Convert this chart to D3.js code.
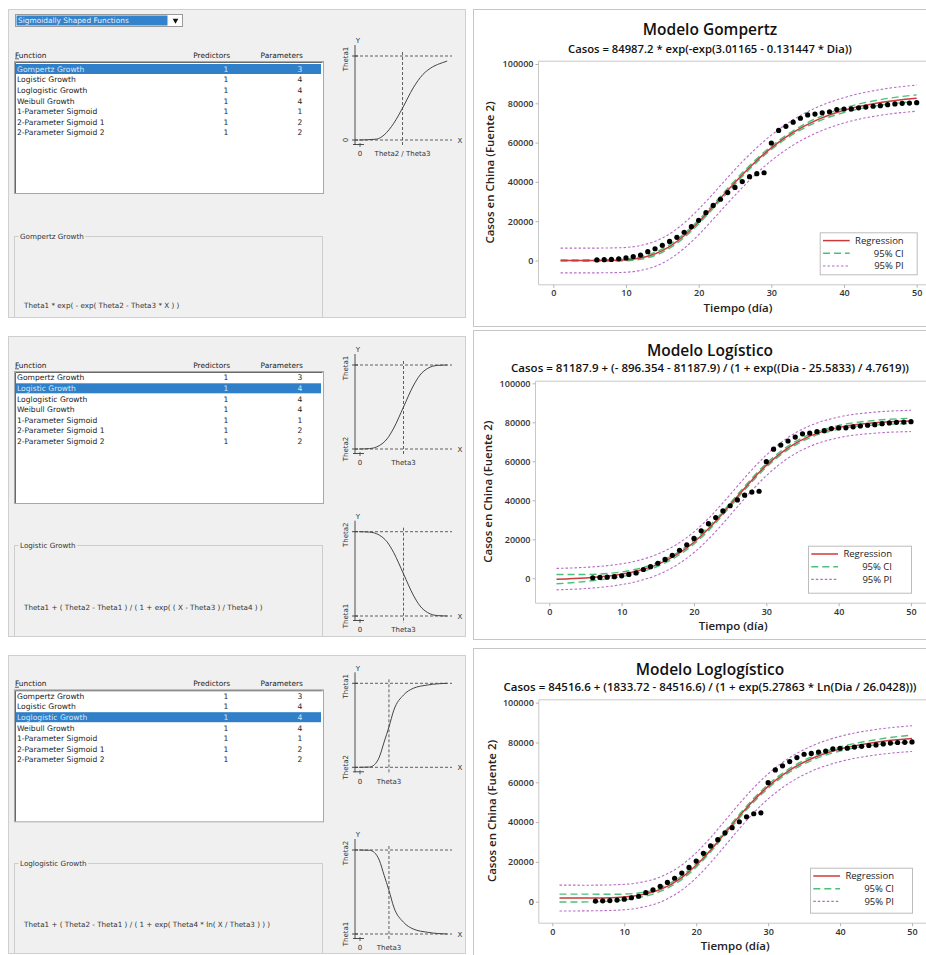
<!DOCTYPE html>
<html>
<head>
<meta charset="utf-8">
<script src="https://cdn.jsdelivr.net/npm/d3@7"></script>
<style>
  body { margin: 0; background: #fff; }
  svg { display: block; }
</style>
</head>
<body>
<script>
// ---- dialog list contents ----
const funcNames = ["Gompertz Growth", "Logistic Growth", "Loglogistic Growth", "Weibull Growth",
  "1-Parameter Sigmoid", "2-Parameter Sigmoid 1", "2-Parameter Sigmoid 2"];
const funcPredictors = [1, 1, 1, 1, 1, 1, 1];
const funcParams = [3, 4, 4, 4, 1, 2, 2];

// ---- observed cases (same series in the three charts) ----
const days = [6, 7, 8, 9, 10, 11, 12, 13, 14, 15, 16, 17, 18, 19, 20, 21, 22, 23, 24, 25, 26, 27, 28,
  29, 30, 31, 32, 33, 34, 35, 36, 37, 38, 39, 40, 41, 42, 43, 44, 45, 46, 47, 48, 49, 50];
const cases = [291, 440, 571, 830, 1287, 1975, 2744, 4515, 5974, 7711, 9692, 11791, 14380, 17205,
  20438, 24324, 28018, 31161, 34546, 37198, 40171, 42638, 44200, 44653, 59804, 66200, 68300, 70400,
  72400, 74100, 74500, 75200, 75700, 76800, 77100, 77150, 77700, 78100, 78500, 78800, 79300, 79700,
  80000, 80100, 80300];

// ---- fitted curves, with CI / PI half widths ----
const fitDays = [1, 5, 9, 12, 15, 18, 20, 22, 24, 26, 28, 30, 33, 36, 40, 45, 50];
const gompFit = [0, 2, 170, 1280, 5020, 12620, 19610, 27530, 35720, 43650, 50920, 57320, 65170, 71060, 76450, 80450, 82610];
const gompCi = [300, 350, 450, 650, 850, 950, 1000, 1000, 1000, 950, 900, 850, 850, 950, 1150, 1400, 1700];
const gompPi = [6300, 6300, 6300, 6350, 6400, 6450, 6500, 6500, 6550, 6550, 6500, 6500, 6450, 6450, 6450, 6550, 6650];
const logiFit = [-430, 180, 1550, 3580, 7130, 12980, 18510, 25390, 33380, 41940, 50340, 57920, 66910, 72910, 77400, 79820, 80700];
const logiCi = [2400, 1800, 1250, 1050, 950, 900, 950, 950, 900, 900, 950, 950, 900, 850, 950, 1150, 1400];
const logiPi = [5500, 5450, 5350, 5300, 5300, 5300, 5300, 5300, 5300, 5300, 5300, 5300, 5300, 5300, 5300, 5400, 5450];
const loglFit = [1830, 1850, 2140, 3200, 6100, 12140, 18280, 25900, 34400, 43000, 50990, 57930, 66100, 71840, 76740, 80150, 81960];
const loglCi = [2000, 1950, 1600, 1150, 950, 900, 950, 950, 950, 900, 950, 950, 900, 900, 1000, 1300, 1800];
const loglPi = [6500, 6450, 6400, 6350, 6300, 6300, 6300, 6300, 6300, 6300, 6300, 6300, 6300, 6300, 6350, 6400, 6450];

const xTicks = [0, 10, 20, 30, 40, 50];
const yTicks = [0, 20000, 40000, 60000, 80000, 100000];
const legendLabels = ["Regression", "95% CI", "95% PI"];

// ---- little shape sketches in the dialog (0..1 units) ----
const gompShapeU = [0.04, 0.22, 0.30, 0.40, 0.49, 0.60, 0.70, 0.80, 0.90, 0.95];
const gompShapeV = [0, 0.01, 0.06, 0.20, 0.38, 0.62, 0.78, 0.87, 0.92, 0.94];
const logiShapeU = [0.04, 0.15, 0.25, 0.33, 0.40, 0.50, 0.60, 0.67, 0.75, 0.85, 0.95];
const logiShapeV = [0, 0.005, 0.04, 0.12, 0.25, 0.50, 0.75, 0.88, 0.96, 0.995, 1];
const loglShapeU = [0.04, 0.15, 0.20, 0.25, 0.30, 0.35, 0.40, 0.50, 0.60, 0.75, 0.95];
const loglShapeV = [0, 0.003, 0.03, 0.12, 0.30, 0.48, 0.68, 0.86, 0.94, 0.98, 1];

const red = "#cc3a3a", green = "#4cbf7c", purple = "#b86cc8";
const uiFont = "'DejaVu Sans', sans-serif";
const chartFont = "'Open Sans', sans-serif";

const svg = d3.select("body").append("svg")
  .attr("width", 926)
  .attr("height", 955);

const dialogs = [
  { top: 9, bottom: 317, dropdown: true, selected: 0, listTop: 61, firstRow: 69, groupTop: 236, formulaY: 308,
    group: "Gompertz Growth", formula: "Theta1 * exp( - exp( Theta2 - Theta3 * X ) )",
    diagrams: [{ top: 56, bottom: 140, vu: 0.49, u: gompShapeU, v: gompShapeV, flip: false, topLab: "Theta1", botLab: "0", xLab: "Theta2 / Theta3" }] },
  { top: 336, bottom: 636, dropdown: false, selected: 1, listTop: 371, firstRow: 377.7, groupTop: 545, formulaY: 610,
    group: "Logistic Growth", formula: "Theta1 + ( Theta2 - Theta1 ) / ( 1 + exp( ( X - Theta3 ) / Theta4 ) )",
    diagrams: [
      { top: 365, bottom: 449, vu: 0.5, u: logiShapeU, v: logiShapeV, flip: false, topLab: "Theta1", botLab: "Theta2", xLab: "Theta3" },
      { top: 531.7, bottom: 616, vu: 0.5, u: logiShapeU, v: logiShapeV, flip: true, topLab: "Theta2", botLab: "Theta1", xLab: "Theta3" }] },
  { top: 655, bottom: 953, dropdown: false, selected: 2, listTop: 689.3, firstRow: 696, groupTop: 863, formulaY: 927,
    group: "Loglogistic Growth", formula: "Theta1 + ( Theta2 - Theta1 ) / ( 1 + exp( Theta4 * ln( X / Theta3 ) ) )",
    diagrams: [
      { top: 683.3, bottom: 767.3, vu: 0.35, u: loglShapeU, v: loglShapeV, flip: false, topLab: "Theta1", botLab: "Theta2", xLab: "Theta3" },
      { top: 850, bottom: 934, vu: 0.35, u: loglShapeU, v: loglShapeV, flip: true, topLab: "Theta2", botLab: "Theta1", xLab: "Theta3" }] }
];

const charts = [
  { title: "Modelo Gompertz", sub: "Casos = 84987.2 * exp(-exp(3.01165 - 0.131447 * Dia))", subW: 284,
    fit: gompFit, ci: gompCi, pi: gompPi, panelTop: 9, panelBottom: 326, titleY: 34.5, subY: 52.5,
    left: 538, top: 60.7, bottom: 284.3, x0: 553.3, x50: 916.7, y0: 260.5, y100: 64, ylabX: 490, legW: 97, legH: 42 },
  { title: "Modelo Logístico", sub: "Casos = 81187.9 + (- 896.354 - 81187.9) / (1 + exp((Dia - 25.5833) / 4.7619))", subW: 398,
    fit: logiFit, ci: logiCi, pi: logiPi, panelTop: 330, panelBottom: 639, titleY: 356, subY: 372,
    left: 535, top: 380.7, bottom: 602.7, x0: 549.3, x50: 911, y0: 578.3, y100: 383.3, ylabX: 488, legW: 103, legH: 47 },
  { title: "Modelo Loglogístico", sub: "Casos = 84516.6 + (1833.72 - 84516.6) / (1 + exp(5.27863 * Ln(Dia / 26.0428)))", subW: 413,
    fit: loglFit, ci: loglCi, pi: loglPi, panelTop: 648, panelBottom: 955, titleY: 674.5, subY: 690.5,
    left: 538.3, top: 699.3, bottom: 922.7, x0: 552.3, x50: 912, y0: 901.7, y100: 702.7, ylabX: 491.7, legW: 102, legH: 45 }
];

function fitWidth(sel, target) {
  const size = parseFloat(sel.attr("font-size"));
  const len = sel.node().getComputedTextLength();
  if (len > 0) sel.attr("font-size", (size * target / len).toFixed(2));
}

function drawDiagram(g, d) {
  const ink = "#3a3a3a";
  const x = d3.scaleLinear().domain([0, 1]).range([355, 452]);
  const y = d3.scaleLinear().domain([0, 1]).range(d.flip ? [d.top, d.bottom] : [d.bottom, d.top]);
  const yTop = d.top, yBot = d.bottom;
  const dash = (x1, y1, x2, y2) => g.append("line")
    .attr("x1", x1).attr("y1", y1).attr("x2", x2).attr("y2", y2)
    .attr("stroke", ink).attr("stroke-width", 0.8).attr("stroke-dasharray", "3,2");

  dash(x(0), yTop, x(1), yTop);
  dash(x(0), yBot, x(1), yBot);
  dash(x(d.vu), yTop - 4, x(d.vu), yBot + 7);

  g.append("line").attr("x1", 355).attr("x2", 355).attr("y1", yTop - 11).attr("y2", yBot + 5)
    .attr("stroke", ink).attr("stroke-width", 0.9);
  g.append("line").attr("x1", 353).attr("x2", 364).attr("y1", yBot + 4.5).attr("y2", yBot + 4.5)
    .attr("stroke", ink).attr("stroke-width", 0.9);
  [yTop, yBot].forEach(v => g.append("line").attr("x1", 352).attr("x2", 358).attr("y1", v).attr("y2", v)
    .attr("stroke", ink).attr("stroke-width", 0.9));
  g.append("line").attr("x1", 360).attr("x2", 360).attr("y1", yBot + 3).attr("y2", yBot + 7)
    .attr("stroke", ink).attr("stroke-width", 0.8);

  g.append("path")
    .datum(d3.zip(d.u, d.v))
    .attr("d", d3.line().x(p => x(p[0])).y(p => y(p[1])).curve(d3.curveMonotoneX))
    .attr("fill", "none").attr("stroke", "#444").attr("stroke-width", 1);

  const lab = (t, tx, ty, rot) => g.append("text")
    .attr("transform", `translate(${tx},${ty})` + (rot ? " rotate(-90)" : ""))
    .attr("text-anchor", "middle").attr("dy", "0.35em")
    .attr("font-family", uiFont).attr("font-size", 7).attr("fill", "#333").text(t);
  lab("Y", 358, yTop - 15, false);
  lab("X", 460, yBot + 0.5, false);
  lab(d.topLab, 345.5, yTop + 3, true);
  lab(d.botLab, 345.5, yBot, true);
  lab("0", 360, yBot + 14, false);
  lab(d.xLab, x(d.vu), yBot + 14, false);
}

function drawDialog(p) {
  const g = svg.append("g");
  g.append("rect").attr("x", 8.5).attr("y", p.top + 0.5).attr("width", 457).attr("height", p.bottom - p.top)
    .attr("fill", "#f0f0f0").attr("stroke", "#cfcfcf");

  if (p.dropdown) {
    g.append("rect").attr("x", 15.5).attr("y", 14.5).attr("width", 167).attr("height", 12)
      .attr("fill", "#fff").attr("stroke", "#9a9a9a");
    g.append("rect").attr("x", 16.5).attr("y", 15.5).attr("width", 151).attr("height", 10)
      .attr("fill", "#3382cc");
    g.append("text").attr("x", 18).attr("y", 23.3).attr("font-family", uiFont).attr("font-size", 7.4)
      .attr("fill", "#e8f1fa").text("Sigmoidally Shaped Functions");
    g.append("path").attr("d", d3.symbol(d3.symbolTriangle, 14)())
      .attr("transform", "translate(175.5,20.5) rotate(180)").attr("fill", "#111");
  }

  const head = g.append("g").attr("font-family", uiFont).attr("font-size", 7.4).attr("fill", "#222");
  const fn = head.append("text").attr("x", 15).attr("y", p.listTop - 3.5);
  fn.append("tspan").attr("text-decoration", "underline").text("F");
  fn.append("tspan").text("unction");
  head.append("text").attr("x", 211.7).attr("y", p.listTop - 3.5).attr("text-anchor", "middle").text("Predictors");
  head.append("text").attr("x", 281.7).attr("y", p.listTop - 3.5).attr("text-anchor", "middle").text("Parameters");

  // list box
  g.append("rect").attr("x", 14.5).attr("y", p.listTop + 0.5).attr("width", 309).attr("height", 132)
    .attr("fill", "#fff").attr("stroke", "#a8a8a8");
  g.append("path").attr("d", `M15.5,${p.listTop + 132}V${p.listTop + 1.5}H322.5`)
    .attr("fill", "none").attr("stroke", "#6a6a6a");

  const rowStep = 10.6;
  g.append("rect").attr("x", 16).attr("y", p.firstRow + p.selected * rowStep - 5)
    .attr("width", 305).attr("height", 10).attr("fill", "#2f7fc9");

  const rows = g.selectAll(".row").data(funcNames).join("g")
    .attr("class", "row")
    .attr("transform", (d, i) => `translate(0,${p.firstRow + i * rowStep + 2.7})`)
    .attr("font-family", uiFont).attr("font-size", 7.6)
    .attr("fill", (d, i) => i === p.selected ? "#d8e7f6" : "#222");
  rows.append("text").attr("x", 17).text(d => d);
  rows.append("text").attr("x", 226).attr("text-anchor", "middle").text((d, i) => funcPredictors[i]);
  rows.append("text").attr("x", 300).attr("text-anchor", "middle").text((d, i) => funcParams[i]);

  // group box with the formula
  g.append("rect").attr("x", 14.5).attr("y", p.groupTop + 0.5).attr("width", 308).attr("height", p.bottom - p.groupTop + 10)
    .attr("fill", "none").attr("stroke", "#cdcdcd");
  const labBg = g.append("rect").attr("y", p.groupTop - 4).attr("height", 9).attr("fill", "#f0f0f0");
  const gl = g.append("text").attr("x", 20).attr("y", p.groupTop + 2.7).attr("font-family", uiFont)
    .attr("font-size", 7.2).attr("fill", "#333").text(p.group);
  labBg.attr("x", 18.5).attr("width", gl.node().getComputedTextLength() + 3);
  g.append("text").attr("x", 24).attr("y", p.formulaY).attr("font-family", uiFont)
    .attr("font-size", 7.2).attr("fill", "#333").text(p.formula);

  // cover the overflow of the group box below the panel
  g.append("rect").attr("x", 8).attr("y", p.bottom + 1).attr("width", 460).attr("height", 12).attr("fill", "#fff");

  p.diagrams.forEach(d => drawDiagram(g, d));
}

function drawChart(c) {
  const g = svg.append("g").attr("font-family", chartFont);
  g.append("rect").attr("x", 473.5).attr("y", c.panelTop + 0.5).attr("width", 460).attr("height", c.panelBottom - c.panelTop)
    .attr("fill", "#fff").attr("stroke", "#c6c6c6");

  const x = d3.scaleLinear().domain([0, 50]).range([c.x0, c.x50]);
  const y = d3.scaleLinear().domain([0, 100000]).range([c.y0, c.y100]);

  g.append("text").attr("x", 710).attr("y", c.titleY).attr("text-anchor", "middle")
    .attr("font-size", 15.5).attr("font-weight", 600).attr("fill", "#111").text(c.title);
  const s = g.append("text").attr("x", 710).attr("y", c.subY).attr("text-anchor", "middle")
    .attr("font-size", 11).attr("font-weight", 600).attr("fill", "#111").text(c.sub);
  fitWidth(s, c.subW);

  const clipId = "clip" + c.panelTop;
  g.append("clipPath").attr("id", clipId).append("rect")
    .attr("x", c.left).attr("y", c.top).attr("width", 926 - c.left).attr("height", c.bottom - c.top);

  // frame
  g.append("path").attr("d", `M940,${c.top + 0.5}H${c.left + 0.5}V${c.bottom + 0.5}H940`)
    .attr("fill", "none").attr("stroke", "#c8c8c8");

  const xAxis = g.append("g").attr("transform", `translate(0,${c.bottom + 0.5})`)
    .call(d3.axisBottom(x).tickValues(xTicks).tickSize(3).tickPadding(2).tickFormat(d3.format("d")));
  const yAxis = g.append("g").attr("transform", `translate(${c.left + 0.5},0)`)
    .call(d3.axisLeft(y).tickValues(yTicks).tickSize(3).tickPadding(2).tickFormat(d3.format("d")));
  [xAxis, yAxis].forEach(a => {
    a.select(".domain").remove();
    a.selectAll(".tick line").attr("stroke", "#b5b5b5");
    a.selectAll(".tick text").attr("font-family", chartFont).attr("font-size", 9)
      .attr("font-weight", 600).attr("fill", "#333");
  });

  g.append("text").attr("x", x(25) + 3).attr("y", c.bottom + 27.5).attr("text-anchor", "middle")
    .attr("font-size", 11.5).attr("font-weight", 600).attr("fill", "#222").text("Tiempo (día)");
  g.append("text").attr("transform", `translate(${c.ylabX},${(c.top + c.bottom) / 2}) rotate(-90)`)
    .attr("text-anchor", "middle").attr("dy", "0.35em")
    .attr("font-size", 11.5).attr("font-weight", 600).attr("fill", "#222").text("Casos en China (Fuente 2)");

  const plot = g.append("g").attr("clip-path", `url(#${clipId})`);
  const line = d3.line().x(d => x(d[0])).y(d => y(d[1])).curve(d3.curveMonotoneX);
  const band = (hw, sign) => fitDays.map((d, i) => [d, c.fit[i] + sign * hw[i]]);

  [1, -1].forEach(sign => plot.append("path").datum(band(c.pi, sign)).attr("d", line)
    .attr("fill", "none").attr("stroke", purple).attr("stroke-width", 1.1).attr("stroke-dasharray", "2.5,2"));
  [1, -1].forEach(sign => plot.append("path").datum(band(c.ci, sign)).attr("d", line)
    .attr("fill", "none").attr("stroke", green).attr("stroke-width", 1.4).attr("stroke-dasharray", "7,4"));
  plot.append("path").datum(d3.zip(fitDays, c.fit)).attr("d", line)
    .attr("fill", "none").attr("stroke", red).attr("stroke-width", 1.5);

  plot.selectAll(".pt").data(d3.zip(days, cases)).join("circle")
    .attr("class", "pt")
    .attr("cx", d => x(d[0])).attr("cy", d => y(d[1])).attr("r", 2.6).attr("fill", "#000");

  // legend
  const lx = x(50) - c.legW, ly = c.bottom - 10 - c.legH;
  const leg = g.append("g").attr("transform", `translate(${lx},${ly})`);
  leg.append("rect").attr("x", 0.5).attr("y", 0.5).attr("width", c.legW).attr("height", c.legH)
    .attr("fill", "#fff").attr("stroke", "#bdbdbd");
  const styles = [
    { stroke: red, w: 1.5, dash: null },
    { stroke: green, w: 1.4, dash: "7,4" },
    { stroke: purple, w: 1.1, dash: "2.5,2" }
  ];
  const items = leg.selectAll(".item").data(legendLabels).join("g")
    .attr("transform", (d, i) => `translate(0,${8.3 + i * 12.7})`);
  items.append("line").attr("x1", 3.3).attr("x2", 30)
    .attr("stroke", (d, i) => styles[i].stroke).attr("stroke-width", (d, i) => styles[i].w)
    .attr("stroke-dasharray", (d, i) => styles[i].dash);
  items.append("text").attr("x", 84).attr("dy", "0.35em").attr("text-anchor", "end")
    .attr("font-size", 9.5).attr("fill", "#222").text(d => d);
}

dialogs.forEach(drawDialog);
charts.forEach(drawChart);
</script>
</body>
</html>
